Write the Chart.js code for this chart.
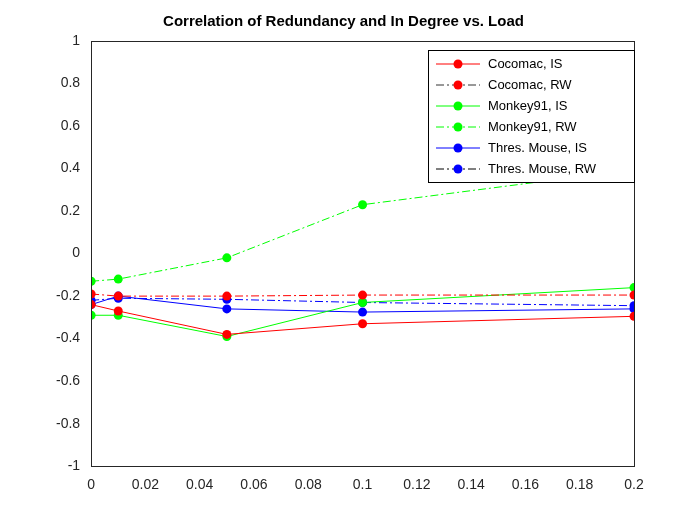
<!DOCTYPE html><html><head><script src="https://cdn.jsdelivr.net/npm/chart.js@4"></script>
<style>body{margin:0;background:#fff}#w{width:700px;height:525px}</style></head><body><div id="w"><canvas id="c"></canvas></div>
<script>
const loads=[0,0.01,0.05,0.1,0.2];
const cocoIS=[-0.24,-0.27,-0.38,-0.33,-0.295];
const cocoRW=[-0.19,-0.2,-0.2,-0.195,-0.195];
const monIS=[-0.29,-0.29,-0.39,-0.23,-0.16];
const monRW=[-0.13,-0.12,-0.02,0.23,0.395];
const mouIS=[-0.24,-0.2,-0.26,-0.275,-0.26];
const mouRW=[-0.22,-0.21,-0.215,-0.23,-0.245];
const labels=['Cocomac, IS','Cocomac, RW','Monkey91, IS','Monkey91, RW','Thres. Mouse, IS','Thres. Mouse, RW'];
const series=[cocoIS,cocoRW,monIS,monRW,mouIS,mouRW];
const colors=['#ff0000','#ff0000','#00ff00','#00ff00','#0000ff','#0000ff'];
const legLine=['#ff0000','#333333','#00ff00','#00ff00','#0000ff','#000000'];
const ds=series.map((s,i)=>({label:labels[i],data:loads.map((x,j)=>({x,y:s[j]})),borderColor:colors[i],backgroundColor:colors[i],borderWidth:1,borderDash:i%2?[8,3,2,3]:[],pointRadius:4.5,pointBorderWidth:0,tension:0}));
const leg={id:'leg',afterDraw(c){const g=c.ctx;const a=c.chartArea;g.save();g.strokeStyle='#262626';g.lineWidth=1;g.strokeRect(Math.round(a.left)+.5,Math.round(a.top)+.5,Math.round(a.right-a.left),Math.round(a.bottom-a.top));
const x0=428,y0=50,w=206,h=132;g.fillStyle='#fff';g.fillRect(x0,y0,w,h);g.strokeStyle='#000';g.strokeRect(x0+.5,y0+.5,w,h);
g.font='13px Arial, "Liberation Sans"';g.textBaseline='middle';
labels.forEach((l,i)=>{const y=y0+14+i*21;g.strokeStyle=legLine[i];g.setLineDash(i%2?[8,3,2,3]:[]);g.beginPath();g.moveTo(x0+8,y);g.lineTo(x0+52,y);g.stroke();g.setLineDash([]);g.fillStyle=colors[i];g.beginPath();g.arc(x0+30,y,4.5,0,7);g.fill();g.fillStyle='#000';g.fillText(l,x0+60,y);});g.restore();}};
new Chart(document.getElementById('c'),{type:'line',data:{datasets:ds},plugins:[leg],options:{responsive:true,maintainAspectRatio:false,animation:false,
layout:{padding:{left:53,right:66,top:9,bottom:28}},
plugins:{legend:{display:false},title:{display:true,text:'Correlation of Redundancy and In Degree vs. Load',color:'#000',font:{size:15,weight:'bold',family:'Arial, "Liberation Sans"'},padding:{top:4,bottom:10}}},
scales:{x:{type:'linear',min:0,max:0.2,border:{color:'#262626'},grid:{display:false},ticks:{stepSize:0.02,color:'#262626',font:{size:14,family:'Arial, "Liberation Sans"'},callback:v=>+v.toFixed(2)+''}},
y:{min:-1,max:1,border:{color:'#262626'},grid:{display:false},ticks:{stepSize:0.2,color:'#262626',font:{size:14,family:'Arial, "Liberation Sans"'},callback:v=>+v.toFixed(1)+''}}}}});
</script></body></html>
